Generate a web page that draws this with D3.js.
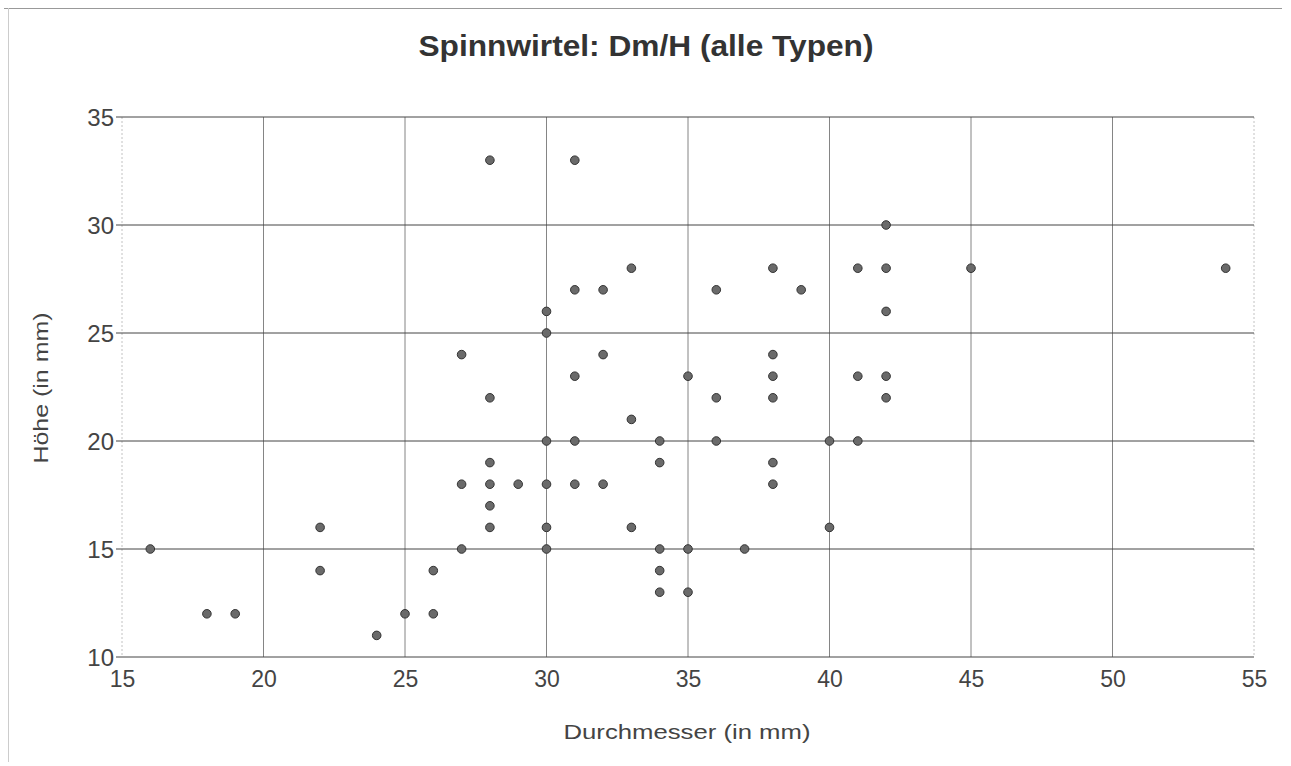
<!DOCTYPE html>
<html><head><meta charset="utf-8">
<script src="https://cdn.jsdelivr.net/npm/d3@7"></script>
<style>body{margin:0;background:#fff;}svg{display:block;}</style>
</head><body>
<svg id="c" width="1291" height="766"></svg>
<script>
const titleText = "Spinnwirtel: Dm/H (alle Typen)";
const xLabel = "Durchmesser (in mm)";
const yLabel = "Höhe (in mm)";
const xTicks = [15, 20, 25, 30, 35, 40, 45, 50, 55];
const yTicks = [10, 15, 20, 25, 30, 35];
const diameter = [16,18,19,22,22,24,25,26,26,27,27,27,28,28,28,28,28,28,29,30,30,30,30,30,30,31,31,31,31,31,32,32,32,33,33,33,34,34,34,34,34,35,35,35,36,36,36,37,38,38,38,38,38,38,39,40,40,41,41,41,42,42,42,42,42,45,54];
const height   = [15,12,12,16,14,11,12,14,12,24,18,15,33,22,19,18,17,16,18,26,25,20,18,16,15,33,27,23,20,18,27,24,18,28,21,16,20,19,15,14,13,23,15,13,27,22,20,15,28,24,23,22,19,18,27,20,16,28,23,20,30,28,26,23,22,28,28];

const FONT = "Liberation Sans, Arial, sans-serif";
const svg = d3.select("#c");
const L = 122, R = 1254, T = 117, B = 657;
const x = d3.scaleLinear().domain([15, 55]).range([L, R]);
const y = d3.scaleLinear().domain([10, 35]).range([B, T]);

// outer frame (scan edges)
svg.append("line").attr("x1", 4).attr("x2", 1282).attr("y1", 8.5).attr("y2", 8.5).attr("stroke", "#999").attr("stroke-width", 1.2);
svg.append("line").attr("x1", 8.5).attr("x2", 8.5).attr("y1", 8).attr("y2", 762).attr("stroke", "#ccc").attr("stroke-width", 1);

// vertical grid
svg.append("g").selectAll("line").data(xTicks).join("line")
  .attr("x1", d => x(d)).attr("x2", d => x(d)).attr("y1", T).attr("y2", B)
  .attr("stroke", d => (d === 15 || d === 55) ? "#bbb" : "#777").attr("stroke-width", 0.9)
  .attr("stroke-dasharray", d => (d === 15 || d === 55) ? "2,2" : null);
// horizontal grid
svg.append("g").selectAll("line").data(yTicks).join("line")
  .attr("x1", L - 6).attr("x2", R).attr("y1", d => y(d)).attr("y2", d => y(d))
  .attr("stroke", "#444").attr("stroke-width", 1);

// axes labels via d3 axes
const xAxis = svg.append("g").attr("transform", `translate(0,${B})`)
  .call(d3.axisBottom(x).tickValues(xTicks).tickSize(0).tickPadding(0));
xAxis.select(".domain").remove();
xAxis.selectAll("text").attr("dy", null).attr("y", 30)
  .attr("font-family", FONT).attr("font-size", 23).attr("fill", "#444");

const yAxis = svg.append("g").attr("transform", `translate(${L - 8},0)`)
  .call(d3.axisLeft(y).tickValues(yTicks).tickSize(0).tickPadding(0));
yAxis.select(".domain").remove();
yAxis.selectAll("text").attr("dy", "0.36em")
  .attr("font-family", FONT).attr("font-size", 24).attr("fill", "#444");

// title
svg.append("text").attr("x", 646).attr("y", 56).attr("text-anchor", "middle")
  .attr("font-family", FONT).attr("font-size", 30).attr("font-weight", "bold").attr("fill", "#333")
  .attr("textLength", 455).attr("lengthAdjust", "spacingAndGlyphs")
  .text(titleText);
// axis titles
svg.append("text").attr("x", 687).attr("y", 739).attr("text-anchor", "middle")
  .attr("font-family", FONT).attr("font-size", 20).attr("fill", "#444")
  .attr("textLength", 247).attr("lengthAdjust", "spacingAndGlyphs")
  .text(xLabel);
svg.append("text").attr("transform", "translate(48,388) rotate(-90)").attr("text-anchor", "middle")
  .attr("font-family", FONT).attr("font-size", 20).attr("fill", "#444")
  .attr("textLength", 151).attr("lengthAdjust", "spacingAndGlyphs")
  .text(yLabel);

// points
const pts = diameter.map((d, i) => ({d, h: height[i]}));
svg.append("g").selectAll("circle").data(pts).join("circle")
  .attr("cx", p => x(p.d)).attr("cy", p => y(p.h)).attr("r", 4.3)
  .attr("fill", "#6a6a6a").attr("stroke", "#333").attr("stroke-width", 1);
</script>
</body></html>
